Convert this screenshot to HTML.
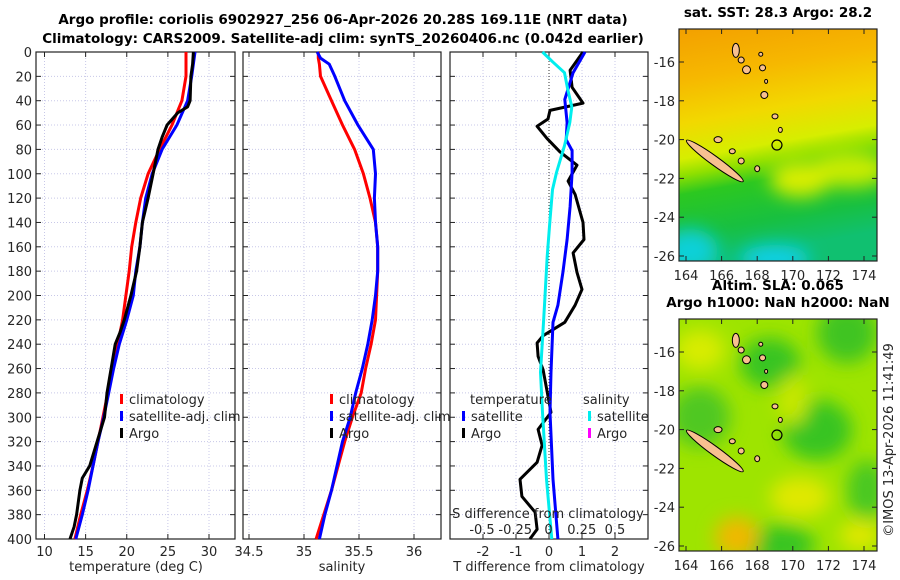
<!DOCTYPE html>
<html><head><meta charset="utf-8">
<style>
html,body{margin:0;padding:0;background:#fff;}
svg{display:block;font-family:"DejaVu Sans","Liberation Sans",sans-serif;}
.t{font-size:13px;fill:#262626;}
.b{font-size:13.5px;font-weight:bold;fill:#000;}
</style></head>
<body>
<svg id="fig" width="900" height="580" viewBox="0 0 900 580">
<defs>
<linearGradient id="sstg" x1="0" y1="0" x2="0.15" y2="1">
<stop offset="0" stop-color="#f3a000"/><stop offset="0.22" stop-color="#f6b800"/>
<stop offset="0.4" stop-color="#f2d800"/><stop offset="0.55" stop-color="#d6ee00"/>
<stop offset="0.62" stop-color="#8fe000"/><stop offset="0.7" stop-color="#2cc820"/>
<stop offset="0.87" stop-color="#18c040"/><stop offset="1" stop-color="#10c070"/>
</linearGradient>
<filter id="bl"><feGaussianBlur stdDeviation="9"/></filter>
<clipPath id="c1"><rect x="679" y="29" width="198" height="232"/></clipPath>
<clipPath id="c2"><rect x="679" y="319" width="198" height="232"/></clipPath>
</defs>
<g id="axes"></g>
</svg>
<script>
// ---------- data ----------
const depthTicks = [0,20,40,60,80,100,120,140,160,180,200,220,240,260,280,300,320,340,360,380,400];
const tTicks = [10,15,20,25,30];
const sTicks = [34.5,35,35.5,36];
const sTickLabels = ["34.5","35","35.5","36"];
const dTTicks = [-2,-1,0,1,2];
const dSTicks = [-0.5,-0.25,0,0.25,0.5];
const dSTickLabels = ["-0.5","-0.25","0","0.25","0.5"];
const lonTicks = [164,166,168,170,172,174];
const latTicks = [-16,-18,-20,-22,-24,-26];

const climDepth = [0,20,40,60,80,100,120,140,160,180,200,220,240,260,280,300,320,340,360,380,400];
const tempClim = [27.2,27.2,26.7,25.5,24.0,22.6,21.7,21.1,20.6,20.3,19.9,19.5,18.9,18.3,17.7,17.1,16.5,15.9,15.2,14.4,13.7];
const tempSat = [28.3,27.9,27.4,26.1,24.3,23.1,22.3,21.9,21.6,21.1,20.8,20.0,19.1,18.4,17.8,17.2,16.5,15.9,15.3,14.6,13.8];
const argoDepth = [0,10,20,40,45,50,60,70,80,100,120,140,160,180,200,220,230,240,260,280,300,320,340,350,360,380,390,400];
const tempArgo = [28.1,28.0,27.8,27.7,27.4,26.2,24.9,24.3,23.8,23.2,22.6,21.9,21.6,21.2,20.5,19.7,19.2,18.6,18.1,17.6,17.3,16.4,15.5,14.6,14.3,13.9,13.6,13.1];
const salDepth = [0,5,10,20,40,60,80,100,120,140,160,180,200,220,240,260,280,300,320,340,360,380,400];
const salClim = [35.13,35.13,35.14,35.15,35.25,35.35,35.46,35.54,35.60,35.65,35.67,35.67,35.66,35.65,35.61,35.56,35.52,35.44,35.37,35.31,35.25,35.18,35.11];
const salSat = [35.12,35.15,35.23,35.28,35.37,35.49,35.63,35.65,35.64,35.65,35.67,35.67,35.65,35.62,35.58,35.53,35.47,35.42,35.35,35.30,35.25,35.19,35.14];
const dSDepth = [0,8,17,31,45,58,77,99,113,140,168,208,236,263,296,351,400];
const dSSat = [-0.045,0.03,0.12,0.145,0.175,0.16,0.12,0.06,0.03,0.01,-0.01,-0.03,-0.045,-0.06,-0.045,-0.015,0.025];
const dTSatDepth = [0,17,39,58,72,81,99,127,154,181,208,222,263,296,351,400];
const dTSat = [1.09,0.73,0.48,0.55,0.52,0.7,0.7,0.64,0.55,0.42,0.27,0.12,0.06,0.03,0.12,0.27];
const dTArgoDepth = [0,15,29,42,48,55,61,71,82,93,106,117,140,154,165,181,195,208,222,233,239,250,261,296,310,323,337,351,365,378,392,400];
const dTArgo = [1.03,0.64,0.7,1.03,0.03,-0.03,-0.36,-0.06,0.33,0.85,0.58,0.79,1.03,1.06,0.73,0.85,1.0,0.79,0.48,-0.18,-0.36,-0.33,-0.18,0.06,-0.33,-0.21,-0.36,-0.88,-0.82,-0.42,-0.36,-0.58];
const argoLon = 169.11, argoLat = -20.28;

// ---------- helpers ----------
const NS="http://www.w3.org/2000/svg";
const root=document.getElementById('axes');
function mk(tag,attrs,parent){const e=document.createElementNS(NS,tag);for(const k in attrs)e.setAttribute(k,attrs[k]);(parent||root).appendChild(e);return e;}
function txt(x,y,s,cls,anchor,parent){const e=mk('text',{x:x,y:y,class:cls,'text-anchor':anchor||'middle'},parent);e.textContent=s;return e;}
const Y0=52,Y1=539;
const yD=d=>Y0+(d/400)*(Y1-Y0);
function lin(d0,d1,r0,r1){return v=>r0+(v-d0)/(d1-d0)*(r1-r0);}

function panel(x0,x1,xs,ticks,labels,name,showY){
  const g=mk('g',{});
  
  
  ticks.forEach(t=>{const x=xs(t);mk('line',{x1:x,x2:x,y1:Y0,y2:Y1,stroke:'#c8c8e8','stroke-width':1,'stroke-dasharray':'1,2'},g);
    mk('line',{x1:x,x2:x,y1:Y1,y2:Y1-5,stroke:'#222'},g);mk('line',{x1:x,x2:x,y1:Y0,y2:Y0+5,stroke:'#222'},g);});
  depthTicks.forEach(d=>{const y=yD(d);mk('line',{x1:x0,x2:x1,y1:y,y2:y,stroke:'#c8c8e8','stroke-width':1,'stroke-dasharray':'1,2'},g);
    mk('line',{x1:x0,x2:x0+5,y1:y,y2:y,stroke:'#222'},g);mk('line',{x1:x1-5,x2:x1,y1:y,y2:y,stroke:'#222'},g);
    if(showY){const l=txt(x0-4,y+5,String(d),'t','end',g);}});
  ticks.forEach((t,i)=>{const l=txt(xs(t),556,labels[i],'t','middle',g);});
  mk('rect',{x:x0,y:Y0,width:x1-x0,height:Y1-Y0,fill:'none',stroke:'#222','stroke-width':1.2},g);
  return g;
}
function line(xs,depths,vals,color,name,w){
  const p=mk('polyline',{points:depths.map((d,i)=>xs(vals[i]).toFixed(1)+','+yD(d).toFixed(1)).join(' '),fill:'none',stroke:color,'stroke-width':w||3,'stroke-linejoin':'round'});
  
  
}
function legend(x,y,color,label,name){
  const g=mk('g',{});
  
  
  mk('rect',{x:x,y:y-10,width:3,height:10,fill:color},g);
  txt(x+9,y,label,'t','start',g);
}

// ---------- titles ----------
let e=txt(343,24,'Argo profile: coriolis 6902927_256 06-Apr-2026 20.28S 169.11E (NRT data)','b');


e=txt(343,43,'Climatology: CARS2009. Satellite-adj clim: synTS_20260406.nc (0.042d earlier)','b');



// ---------- panel 1 temperature ----------
const xT=lin(10,30,44.5,209);
panel(36,235,xT,tTicks,tTicks.map(String),'temperature-panel',true);
line(xT,climDepth,tempClim,'#ff0000','temp-climatology-line');
line(xT,climDepth,tempSat,'#0000ff','temp-satellite-line');
line(xT,argoDepth,tempArgo,'#000000','temp-argo-line');
legend(120,404,'#ff0000','climatology','legend-climatology');
legend(120,421,'#0000ff','satellite-adj. clim','legend-satellite');
legend(120,438,'#000000','Argo','legend-argo');
e=txt(136,571,'temperature (deg C)','t');



// ---------- panel 2 salinity ----------
const xS=lin(35,36,304,414);
panel(243,441,xS,sTicks,sTickLabels,'salinity-panel',false);
line(xS,salDepth,salClim,'#ff0000','sal-climatology-line');
line(xS,salDepth,salSat,'#0000ff','sal-satellite-line');
legend(330,404,'#ff0000','climatology','legend-sal-climatology');
legend(330,421,'#0000ff','satellite-adj. clim','legend-sal-satellite');
legend(330,438,'#000000','Argo','legend-sal-argo');
e=txt(342,571,'salinity','t');



// ---------- panel 3 differences ----------
const xdT=lin(-1,1,516,582);
const xdS=lin(-0.5,0.5,482,615);
panel(450,648,xdT,dTTicks,dTTicks.map(String),'difference-panel',false);
mk('line',{x1:xdT(0),x2:xdT(0),y1:Y0,y2:Y1,stroke:'#333','stroke-width':1,'stroke-dasharray':'1,2'});
line(xdT,dTArgoDepth,dTArgo,'#000000','t-diff-argo-line');
line(xdT,dTSatDepth,dTSat,'#0000ff','t-diff-satellite-line');
line(xdS,dSDepth,dSSat,'#00eeee','s-diff-satellite-line');
e=txt(470,404,'temperature','t','start');


e=txt(583,404,'salinity','t','start');


legend(462,421,'#0000ff','satellite','legend-t-satellite');
legend(462,438,'#000000','Argo','legend-t-argo');
legend(588,421,'#00eeee','satellite','legend-s-satellite');
legend(588,438,'#ff00ff','Argo','legend-s-argo');
e=txt(548,518,'S difference from climatology','t');


dSTicks.forEach((t,i)=>{const l=txt(xdS(t),534,dSTickLabels[i],'t');
  
  });
e=txt(549,571,'T difference from climatology','t');



// ---------- maps ----------
const xL=lin(164,174,686,864);
function mapAxes(top,title,name,fillFn){
  const yL=lin(-16,-26,top+33,top+227);
  const g=mk('g',{'clip-path':'url(#c'+(top<100?1:2)+')'});
  
  
  fillFn(g,top);
  const isl=mk('g',{fill:'#f8c090',stroke:'#000','stroke-width':1},g);
  const cx=(xL(164)+xL(166.9))/2+3, cy=yL(-21.1);
  const nc=mk('ellipse',{cx:cx,cy:cy,rx:35,ry:4.5,transform:'rotate(36 '+cx+' '+cy+')'},isl);
  
  
  [[166.8,-15.4,3.5,7],[167.1,-15.9,3,3],[167.4,-16.4,4,4],[168.3,-16.3,3,3],[168.2,-15.6,2,2],[168.5,-17.0,1.5,2],[168.4,-17.7,3.5,3.5],[169.0,-18.8,3,2.5],[169.3,-19.5,2,2.5],[165.8,-20.0,4,3],[166.6,-20.6,3,2.5],[167.1,-21.1,3,3],[168.0,-21.5,2.5,3]].forEach(a=>{
    mk('ellipse',{cx:xL(a[0]),cy:yL(a[1]),rx:a[2],ry:a[3]},isl);});
  const c=mk('circle',{cx:xL(argoLon),cy:yL(argoLat),r:5,fill:'none',stroke:'#000','stroke-width':1.2},g);
  
  
  mk('rect',{x:679,y:top,width:198,height:232,fill:'none',stroke:'#222','stroke-width':1.2});
  lonTicks.forEach(t=>{mk('line',{x1:xL(t),x2:xL(t),y1:top+232,y2:top+227,stroke:'#222'});mk('line',{x1:xL(t),x2:xL(t),y1:top,y2:top+5,stroke:'#222'});
    const l=txt(xL(t),top+251,String(t),'t');});
  latTicks.forEach(t=>{const y=yL(t);mk('line',{x1:679,x2:684,y1:y,y2:y,stroke:'#222'});mk('line',{x1:872,x2:877,y1:y,y2:y,stroke:'#222'});
    const l=txt(675,y+5,String(t),'t','end');});
  title.forEach((s,i)=>{const l=txt(778,top-12-(title.length-1-i)*17,s,'b');});
}
mapAxes(29,['sat. SST: 28.3 Argo: 28.2'],'sst-map',(g,top)=>{
  mk('rect',{x:679,y:top,width:198,height:232,fill:'url(#sstg)'},g);
  const b=mk('g',{filter:'url(#bl)'},g);
  mk('ellipse',{cx:690,cy:top+222,rx:28,ry:22,fill:'#10d0d8'},b);
  mk('ellipse',{cx:775,cy:top+230,rx:35,ry:14,fill:'#10d0e8'},b);
  mk('ellipse',{cx:850,cy:top+140,rx:40,ry:18,fill:'#c8ec00'},b);
  mk('ellipse',{cx:800,cy:top+150,rx:30,ry:18,fill:'#d8ee00'},b);
});
mapAxes(319,['Altim. SLA: 0.065','Argo h1000: NaN h2000: NaN'],'sla-map',(g,top)=>{
  mk('rect',{x:679,y:top,width:198,height:232,fill:'#9ee400'},g);
  const b=mk('g',{filter:'url(#bl)'},g);
  [[770,363,30,25,'#38c420'],[847,333,30,30,'#40c420'],[817,430,35,30,'#38c420'],[700,417,30,30,'#50c820'],[780,545,35,20,'#38c420'],[867,490,20,30,'#48c820'],[700,350,25,20,'#d8ec00'],[737,537,22,20,'#f0b800'],[800,497,30,20,'#e0e800'],[860,535,20,15,'#e0e800'],[793,400,15,25,'#c8e800']].forEach(a=>{
    mk('ellipse',{cx:a[0],cy:a[1],rx:a[2],ry:a[3],fill:a[4]},b);});
});
e=txt(0,0,'©IMOS 13-Apr-2026 11:41:49','t','middle');
e.setAttribute('transform','translate(893,440) rotate(-90)');


</script>
</body></html>
